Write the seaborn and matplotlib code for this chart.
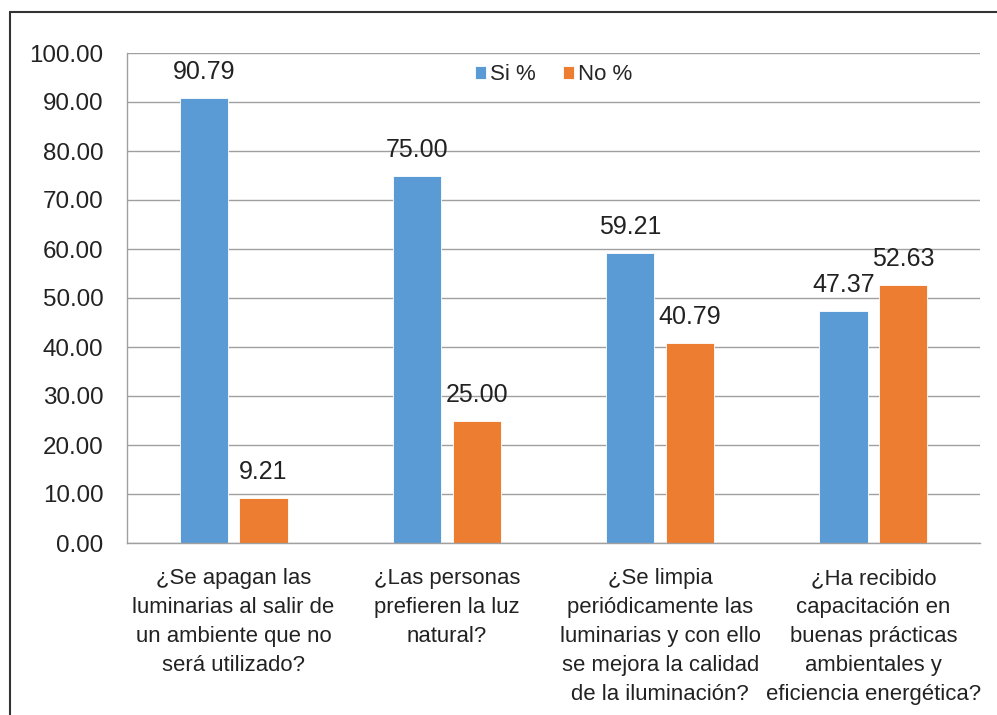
import pandas as pd
import seaborn as sns
import matplotlib.pyplot as plt
from matplotlib.lines import Line2D

# Survey questions and answers (%)
preguntas = [
    "¿Se apagan las\nluminarias al salir de\nun ambiente que no\nserá utilizado?",
    "¿Las personas\nprefieren la luz\nnatural?",
    "¿Se limpia\nperiódicamente las\nluminarias y con ello\nse mejora la calidad\nde la iluminación?",
    "¿Ha recibido\ncapacitación en\nbuenas prácticas\nambientales y\neficiencia energética?",
]
si_pct = [90.79, 75.00, 59.21, 47.37]
no_pct = [9.21, 25.00, 40.79, 52.63]
series = ["Si %", "No %"]
colores = ["#5B9BD5", "#ED7D31"]

df = pd.DataFrame({"pregunta": preguntas * 2,
                   "serie": [series[0]] * 4 + [series[1]] * 4,
                   "valor": si_pct + no_pct})

sns.set_style("white")
fuente = ["Liberation Sans", "DejaVu Sans"]
plt.rcParams["font.family"] = fuente

W, H = 997, 715
fig = plt.figure(figsize=(W / 100, H / 100), dpi=100)
ax = fig.add_axes([127 / W, 1 - 543 / H, (980 - 127) / W, (543 - 53) / H])

sns.barplot(data=df, x="pregunta", y="valor", hue="serie", palette=colores,
            saturation=1, width=0.56, gap=0.19, ax=ax,
            edgecolor="white", linewidth=0.6)

for cont in ax.containers:
    ax.bar_label(cont, fmt="%.2f", padding=10, fontsize=18, color="#222222")

ax.set_ylim(0, 100)
ax.set_yticks(range(0, 101, 10))
ax.set_yticklabels([f"{v:.2f}" for v in range(0, 101, 10)], fontsize=17.4)
ax.tick_params(axis="y", length=0, pad=17, colors="#222222")
ax.tick_params(axis="x", length=0, pad=18, labelsize=15.9, colors="#222222")
for lab in ax.get_xticklabels():
    lab.set_verticalalignment("top")
    lab.set_linespacing(1.5)
ax.set_xlabel("")
ax.set_ylabel("")
ax.yaxis.grid(True, color="#A0A0A0", linewidth=1)
ax.set_axisbelow(True)
for s in ["top", "right"]:
    ax.spines[s].set_visible(False)
for s in ["left", "bottom"]:
    ax.spines[s].set_color("#A0A0A0")
    ax.spines[s].set_linewidth(1)

ax.legend(loc="upper center", bbox_to_anchor=(0.5, 1.018), ncol=2,
          frameon=False, handlelength=0.5, handleheight=0.5,
          handletextpad=0.2, columnspacing=1.2,
          prop={"family": fuente, "size": 16})

# outer frame (chart border, only top and left visible in the crop)
fig.add_artist(Line2D([10 / W, 10 / W], [0, 1 - 12 / H], color="#333333", linewidth=1.5))
fig.add_artist(Line2D([10 / W, 1], [1 - 12 / H, 1 - 12 / H], color="#333333", linewidth=1.5))

fig.savefig("out.png", dpi=100)
